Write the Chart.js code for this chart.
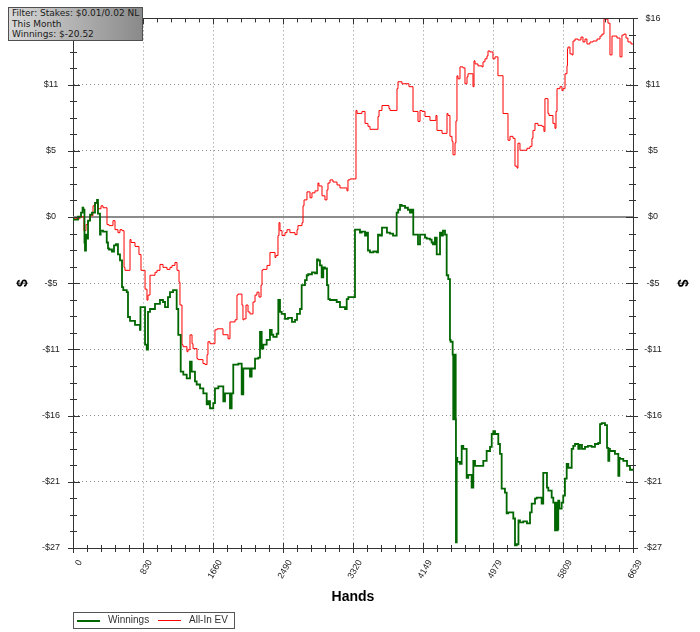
<!DOCTYPE html>
<html>
<head>
<meta charset="utf-8">
<script src="https://cdn.jsdelivr.net/npm/chart.js@4.4.1/dist/chart.umd.min.js"></script>
<style>
  body { margin: 0; background: #fff; }
  #wrap { position: relative; width: 700px; height: 632px; }
  #info { position: absolute; left: 8px; top: 7px; width: 130px; height: 32px; padding: 0 0 0 3px;
    border: 1px solid #505050; background: linear-gradient(to right, #d8d8d8, #8a8a8a);
    font: 9px/10.5px "DejaVu Sans", sans-serif; color: #1a1a1a; white-space: nowrap; }
  #legend { position: absolute; left: 73px; top: 612px; width: 160px; height: 15px; border: 1px solid #555;
    font: 10px "Liberation Sans", Arial, sans-serif; color: #333; }
  #legend span { position: absolute; top: 1px; }
  #legend i { position: absolute; top: 7px; width: 23px; }
</style>
</head>
<body>
<div id="wrap">
  <canvas id="c" width="700" height="632"></canvas>
  <div id="info">Filter: Stakes: $0.01/0.02 NL<br>This Month<br>Winnings: $-20.52</div>
  <div id="legend"></div>
</div>
<script>
// axis ticks
const xLabels = ['0', '830', '1660', '2490', '3320', '4149', '4979', '5809', '6639'];
const yLabels = ['-$27', '-$21', '-$16', '-$11', '-$5', '$0', '$5', '$11', '$16'];
const handsMax = 6639;
const yMin = -26.875, yStep = 5.375;

// Winnings (hands, $)
const winHands = [
  0, 59, 95, 113, 122, 136, 142, 154, 166, 178,
  202, 225, 261, 285, 296, 320, 328, 356, 400, 415,
  427, 462, 486, 510, 533, 557, 581, 596, 637, 652,
  676, 735, 794, 800, 814, 854, 874, 889, 913, 972,
  1031, 1067, 1091, 1126, 1150, 1186, 1229, 1248, 1277, 1308,
  1348, 1387, 1407, 1446, 1466, 1506, 1545, 1585, 1604, 1624,
  1663, 1683, 1723, 1782, 1802, 1822, 1861, 1881, 1900, 1960,
  2000, 2019, 2059, 2098, 2118, 2158, 2197, 2217, 2237, 2256,
  2296, 2335, 2356, 2375, 2415, 2434, 2454, 2474, 2513, 2549,
  2596, 2632, 2656, 2691, 2711, 2750, 2771, 2789, 2833, 2869,
  2893, 2908, 2928, 2948, 2967, 2987, 3011, 3027, 3047, 3126,
  3165, 3225, 3245, 3264, 3343, 3363, 3402, 3423, 3462, 3482,
  3497, 3521, 3560, 3600, 3616, 3639, 3663, 3699, 3722, 3758,
  3794, 3837, 3856, 3877, 3897, 3936, 3971, 3995, 4015, 4034,
  4054, 4090, 4114, 4134, 4173, 4193, 4232, 4252, 4268, 4291,
  4312, 4331, 4351, 4371, 4386, 4410, 4430, 4449, 4469, 4477,
  4501, 4508, 4512, 4516, 4519, 4523, 4526, 4530, 4533, 4537,
  4540, 4549, 4556, 4588, 4608, 4627, 4667, 4686, 4726, 4746,
  4766, 4805, 4864, 4904, 4944, 4964, 4983, 5003, 5042, 5062,
  5082, 5121, 5141, 5160, 5220, 5240, 5260, 5281, 5299, 5338,
  5382, 5418, 5438, 5477, 5497, 5556, 5575, 5595, 5619, 5635,
  5675, 5694, 5714, 5720, 5726, 5732, 5738, 5744, 5753, 5765,
  5793, 5812, 5832, 5853, 5872, 5912, 5931, 5951, 5990, 6010,
  6034, 6070, 6105, 6149, 6188, 6227, 6248, 6268, 6307, 6331,
  6346, 6358, 6366, 6425, 6465, 6477, 6485, 6524, 6568, 6603, 6639
];
const winnings = [
  0, -0.22, 0.02, 0.35, 0.75, 0.59, -2.07, -2.72, -1.43, -1.75,
  -0.30, 0.19, 0.35, 1.15, 1.39, 0.27, -1.42, -1.10, -1.18, -2.07,
  -2.55, -2.64, -2.80, -2.31, -2.21, -3.04, -3.52, -5.70, -5.94, -6.10,
  -8.12, -8.44, -8.76, -9.16, -7.31, -7.31, -10.37, -10.77, -7.71, -7.47,
  -7.06, -6.74, -6.90, -7.31, -6.50, -6.10, -5.94, -7.47, -9.57, -12.55,
  -12.79, -13.11, -11.74, -12.55, -13.35, -13.60, -13.92, -14.32, -15.21, -14.96,
  -15.53, -15.12, -13.92, -13.76, -14.96, -14.32, -14.32, -15.53, -14.32, -11.98,
  -11.90, -14.40, -12.30, -12.30, -12.95, -12.30, -11.50, -11.42, -9.32, -10.69,
  -10.37, -9.97, -9.16, -9.56, -9.73, -9.48, -6.74, -7.71, -7.87, -8.27,
  -8.19, -8.52, -8.35, -7.87, -7.47, -5.53, -5.13, -4.73, -4.65, -4.49,
  -4.57, -3.45, -3.53, -3.93, -4.91, -4.10, -4.18, -5.53, -6.66, -6.74,
  -6.90, -7.31, -7.47, -6.66, -6.50, -1.03, -1.03, -1.27, -1.19, -1.51,
  -1.27, -2.72, -2.88, -2.80, -2.88, -1.43, -1.51, -0.86, -0.86, -1.27,
  -1.35, -1.51, 0.35, 0.59, 0.99, 0.91, 0.75, 0.59, 0.35, 0.59,
  -1.43, -1.43, -2.23, -1.43, -1.43, -1.67, -1.75, -1.83, -2.07, -2.23,
  -1.67, -3.04, -3.04, -1.27, -1.51, -1.10, -1.43, -4.73, -5.05, -9.97,
  -10.13, -11.18, -16.42, -11.18, -16.42, -11.18, -16.42, -11.18, -16.42, -11.18,
  -16.42, -26.42, -19.56, -19.88, -20.04, -18.59, -18.83, -21.17, -20.93, -21.98,
  -19.80, -20.20, -20.20, -19.80, -19.00, -18.67, -17.62, -17.38, -17.62, -18.43,
  -19.24, -22.06, -22.38, -24.07, -23.99, -24.48, -26.65, -26.57, -24.64, -24.80,
  -24.72, -24.88, -23.99, -23.27, -22.86, -22.78, -23.27, -20.77, -20.77, -21.98,
  -22.22, -22.78, -23.19, -25.44, -23.19, -25.44, -23.19, -25.44, -25.36, -23.03,
  -23.67, -23.19, -22.62, -21.25, -20.04, -20.36, -18.83, -18.59, -18.43, -18.83,
  -18.51, -18.83, -18.67, -18.59, -18.67, -18.43, -18.35, -16.82, -16.74, -16.90,
  -18.75, -19.80, -18.83, -19.00, -19.24, -21.01, -19.56, -19.64, -19.80, -20.20, -20.52
];

// All-In EV (hands, $)
const evHands = [
  0, 83, 130, 154, 178, 202, 237, 261, 296, 332,
  356, 403, 427, 474, 498, 533, 557, 581, 605, 616,
  676, 688, 735, 782, 806, 818, 854, 877, 889, 913,
  937, 972, 996, 1031, 1067, 1114, 1150, 1174, 1209, 1233,
  1257, 1268, 1292, 1304, 1351, 1363, 1387, 1411, 1423, 1470,
  1482, 1541, 1565, 1589, 1600, 1624, 1683, 1707, 1743, 1778,
  1838, 1861, 1873, 1921, 1944, 1956, 2003, 2015, 2027, 2051,
  2075, 2098, 2134, 2158, 2181, 2205, 2229, 2241, 2252, 2300,
  2335, 2359, 2395, 2406, 2430, 2442, 2454, 2478, 2513, 2537,
  2572, 2632, 2656, 2667, 2715, 2727, 2739, 2774, 2810, 2833,
  2869, 2904, 2916, 2952, 2987, 3011, 3023, 3047, 3082, 3130,
  3165, 3248, 3260, 3284, 3319, 3355, 3367, 3426, 3462, 3497,
  3521, 3616, 3628, 3663, 3699, 3746, 3758, 3782, 3841, 3853,
  3900, 3936, 3983, 3995, 4031, 4054, 4090, 4114, 4138, 4173,
  4232, 4303, 4315, 4327, 4375, 4386, 4434, 4446, 4469, 4493,
  4505, 4529, 4540, 4552, 4564, 4588, 4623, 4647, 4671, 4683,
  4706, 4742, 4754, 4766, 4801, 4849, 4861, 4884, 4908, 4920,
  4944, 4979, 5003, 5038, 5062, 5098, 5121, 5157, 5181, 5216,
  5240, 5264, 5275, 5299, 5323, 5382, 5418, 5441, 5453, 5477,
  5512, 5560, 5583, 5595, 5607, 5631, 5643, 5690, 5714, 5726,
  5738, 5773, 5797, 5809, 5833, 5856, 5862, 5868, 5892, 5916,
  5928, 5951, 5987, 6022, 6046, 6070, 6093, 6105, 6129, 6165,
  6212, 6248, 6271, 6295, 6307, 6342, 6366, 6390, 6413, 6449,
  6485, 6508, 6532, 6556, 6579, 6615, 6639
];
const allInEv = [
  0, -0.14, 0.02, -1.11, -0.62, -0.30, 0.10, 0.91, 1.15, 0.67,
  0.91, 0.75, -0.62, -0.70, -0.30, -1.03, -1.27, -1.03, -1.11, -4.09,
  -4.33, -1.83, -2.07, -2.39, -3.04, -4.33, -4.33, -5.86, -6.75, -6.34,
  -4.73, -4.73, -4.49, -4.33, -3.85, -4.09, -4.25, -4.09, -3.93, -3.69,
  -4.33, -5.30, -7.15, -10.37, -10.53, -10.94, -10.78, -9.57, -10.29, -10.69,
  -11.50, -11.58, -11.90, -11.98, -11.18, -10.13, -10.29, -9.16, -9.08, -9.08,
  -9.56, -9.89, -8.52, -8.52, -8.35, -6.34, -6.26, -7.15, -8.35, -8.27,
  -7.15, -7.71, -7.87, -6.90, -6.34, -6.10, -6.50, -5.53, -4.33, -4.25,
  -3.93, -2.88, -2.88, -3.29, -3.13, -1.51, -0.46, -1.11, -1.51, -1.27,
  -1.03, -1.27, -1.43, -1.03, -0.70, -0.46, 0.91, 1.39, 2.04, 1.56,
  1.96, 2.12, 2.76, 2.52, 1.72, 1.39, 2.20, 2.76, 3.01, 2.84,
  2.60, 2.36, 2.12, 3.01, 3.09, 3.09, 8.65, 8.41, 8.57, 7.60,
  7.36, 7.12, 8.16, 8.65, 9.05, 9.05, 8.81, 8.65, 8.65, 10.42,
  10.98, 10.82, 10.82, 10.58, 10.58, 8.57, 8.57, 7.76, 8.65, 8.57,
  8.16, 7.84, 8.24, 7.03, 7.03, 6.79, 6.79, 8.40, 8.24, 6.55,
  6.15, 5.05, 6.02, 7.79, 11.46, 11.22, 12.19, 12.11, 10.82, 11.38,
  11.63, 11.63, 10.58, 12.68, 12.43, 12.27, 12.19, 12.60, 12.84, 13.08,
  13.48, 13.40, 12.84, 13.00, 11.47, 11.47, 8.40, 8.40, 6.23, 6.55,
  6.39, 4.13, 3.97, 5.99, 5.42, 5.42, 5.58, 5.74, 6.39, 7.03,
  7.60, 7.44, 7.36, 6.95, 9.61, 9.61, 8.40, 8.24, 7.60, 7.20,
  8.57, 10.42, 10.58, 10.26, 10.42, 11.63, 12.27, 13.64, 13.80, 13.24,
  13.16, 14.29, 14.45, 14.37, 14.61, 14.21, 14.45, 14.05, 14.05, 14.21,
  14.29, 14.45, 14.69, 14.85, 16.06, 16.06, 15.74, 13.16, 14.69, 14.69,
  14.53, 13.00, 14.77, 14.85, 14.53, 14.21, 14.05
];

const series = [
  { label: 'Winnings', hands: winHands, values: winnings, color: '#006600', width: 1.8 },
  { label: 'All-In EV', hands: evHands, values: allInEv, color: '#ff0000', width: 1 }
];

const FONT = '"Liberation Sans", Arial, sans-serif';

// minor/major tick marks, top frame and zero line
const axisDecor = {
  id: 'axisDecor',
  beforeDatasetsDraw(chart) {
    const { ctx, chartArea: a, scales: { y } } = chart;
    const y0 = Math.round(y.getPixelForValue(0));
    ctx.save();
    ctx.strokeStyle = '#8c8c8c';
    ctx.lineWidth = 2;
    ctx.beginPath(); ctx.moveTo(a.left, y0); ctx.lineTo(a.right, y0); ctx.stroke();
    ctx.restore();
  },
  afterDraw(chart) {
    const { ctx, chartArea: a, scales: { x, y } } = chart;
    ctx.save();
    ctx.strokeStyle = '#333';
    ctx.lineWidth = 1;
    ctx.beginPath();
    ctx.moveTo(a.left, Math.round(a.top) + .5); ctx.lineTo(a.right, Math.round(a.top) + .5);
    for (let i = 0; i <= 40; i++) {
      const px = Math.round(x.getPixelForValue(i * handsMax / 40)) + .5;
      const major = i % 5 === 0;
      ctx.moveTo(px, a.bottom - (major ? 5 : 3)); ctx.lineTo(px, a.bottom + (major ? 5 : 4));
      ctx.moveTo(px, a.top); ctx.lineTo(px, a.top + (major ? 6 : 4));
    }
    for (let i = 0; i <= 32; i++) {
      const py = Math.round(y.getPixelForValue(yMin + i * yStep / 4)) + .5;
      const major = i % 4 === 0;
      ctx.moveTo(a.left - (major ? 5 : 3), py); ctx.lineTo(a.left + (major ? 7 : 4), py);
      ctx.moveTo(a.right - (major ? 7 : 4), py); ctx.lineTo(a.right + (major ? 5 : 3), py);
    }
    ctx.stroke();
    ctx.restore();
  }
};

function yAxis(position, width, pad, titlePad) {
  return {
    position, min: yMin, max: yMin + 8 * yStep,
    afterBuildTicks: s => { s.ticks = yLabels.map((l, i) => ({ value: yMin + i * yStep })); },
    afterFit: s => { s.width = width; },
    ticks: { crossAlign: 'center', padding: pad, autoSkip: false, color: '#222',
      font: { family: FONT, size: 9 }, callback: (v, i) => yLabels[i] },
    grid: { drawTicks: false, color: '#8c8c8c', drawOnChartArea: position === 'left' },
    border: { color: '#333', width: 1, dash: [1, 3] },
    title: { display: true, text: '$', color: '#000', font: { family: FONT, size: 14, weight: 'bold' },
      padding: { top: titlePad, bottom: 0 } }
  };
}

new Chart(document.getElementById('c'), {
  type: 'line',
  data: {
    datasets: series.map(s => ({
      label: s.label,
      data: s.hands.map((h, i) => ({ x: h, y: s.values[i] })),
      borderColor: s.color, backgroundColor: s.color, borderWidth: s.width,
      pointRadius: 0, stepped: 'after', fill: false
    }))
  },
  options: {
    responsive: false, animation: false,
    layout: { padding: { top: 14, left: 0, right: 0, bottom: 0 } },
    plugins: { legend: { display: false }, tooltip: { enabled: false } },
    scales: {
      x: {
        type: 'linear', min: 0, max: handsMax,
        afterBuildTicks: s => { s.ticks = xLabels.map((l, i) => ({ value: i * handsMax / 8 })); },
        afterFit: s => { s.height = 84; },
        ticks: { minRotation: 60, maxRotation: 60, autoSkip: false, padding: 10, labelOffset: 7, color: '#222',
          font: { family: FONT, size: 9 }, callback: (v, i) => xLabels[i] },
        grid: { drawTicks: false, color: '#8c8c8c' },
        border: { color: '#333', width: 1, dash: [1, 3] },
        title: { display: true, text: 'Hands', color: '#000', font: { family: FONT, size: 14, weight: 'bold' },
          padding: { top: 0, bottom: 26 } }
      },
      y: yAxis('left', 73, 13, 15),
      y2: yAxis('right', 67, 11, 10)
    }
  },
  plugins: [axisDecor]
});

// legend
document.getElementById('legend').innerHTML = series.map((s, i) => {
  const x0 = i ? 84 : 3;
  return `<i style="left:${x0}px;border-top:${s.width > 1 ? 2 : 1}px solid ${s.color}"></i>` +
    `<span style="left:${x0 + 31}px">${s.label}</span>`;
}).join('');
</script>
</body>
</html>
